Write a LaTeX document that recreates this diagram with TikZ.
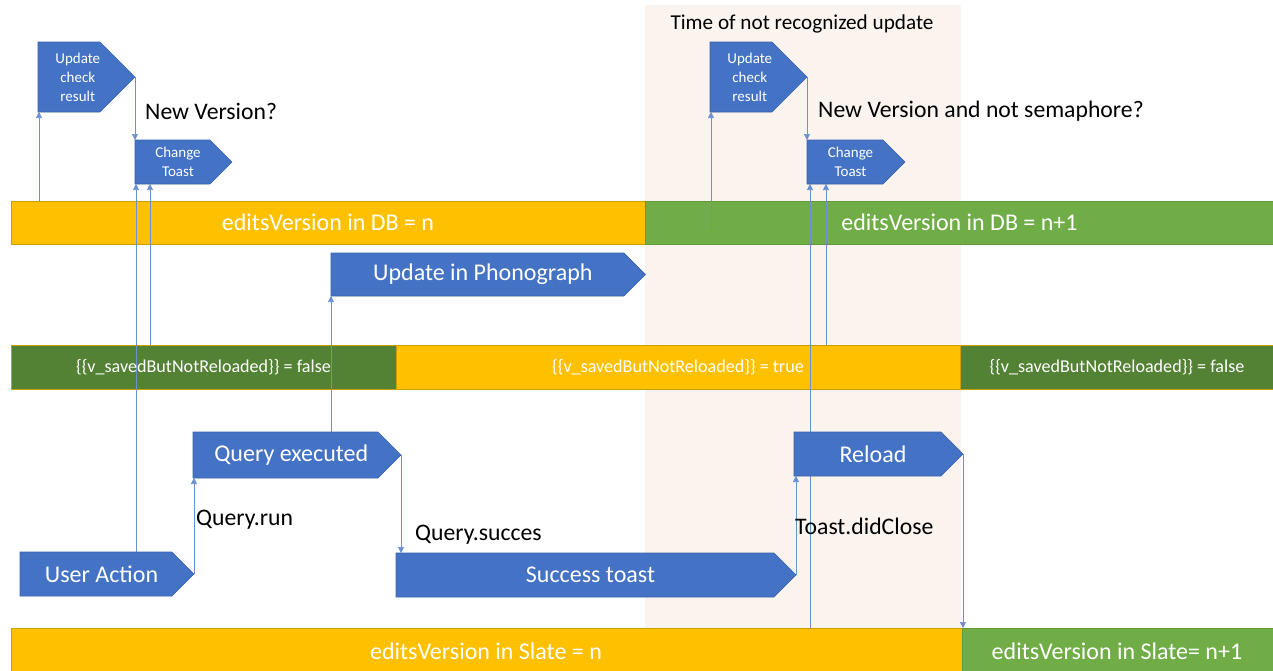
\documentclass[tikz,border=0pt]{standalone}
\usepackage{fontspec}
\setmainfont{Carlito}
\usetikzlibrary{arrows.meta,calc}
\pgfdeclarelayer{back}
\pgfdeclarelayer{mid}
\pgfsetlayers{back,mid,main}
\definecolor{orng}{HTML}{FFC000}
\definecolor{orngline}{HTML}{C9A000}
\definecolor{grn}{HTML}{70AD47}
\definecolor{grnline}{HTML}{5E9A38}
\definecolor{dgrn}{HTML}{548235}
\definecolor{boxblue}{HTML}{4472C4}
\definecolor{boxline}{HTML}{3A62AC}
\definecolor{connblue}{HTML}{6A90D4}
\definecolor{shadecol}{HTML}{FBF3EE}
\tikzset{
  pentbody/.style={fill=boxblue, draw=boxline, line width=0.6pt},
  pentnode/.style={draw=none, inner sep=0pt, outer sep=0pt},
  penttext/.style={text=white, align=center, inner sep=0pt},
  band/.style={line width=0.6pt, inner sep=0pt, outer sep=0pt, anchor=north west, text=white},
  bigfont/.style={font=\fontsize{24}{24}\selectfont},
  midfont/.style={font=\fontsize{18.1}{20}\selectfont},
  lbl/.style={text=black, inner sep=0pt, font=\fontsize{23.7}{24}\selectfont},
  conn/.style={draw=connblue, line width=0.6pt, -{Triangle[width=6pt,length=6pt]}}
}
\newcommand{\pentbox}[8]{%
  \pgfmathsetmacro{\pentH}{(#5-#3)/2}%
  \filldraw[pentbody] (#2,#3) -- (#4,#3) -- ({#4+\pentH},{(#3+#5)/2}) -- (#4,#5) -- (#2,#5) -- cycle;
  \node[pentnode, minimum width={#4-#2}, minimum height={#5-#3}] (#1) at ({(#2+#4)/2},{(#3+#5)/2}) {};
  \coordinate (#1-tip) at ({#4+\pentH},{(#3+#5)/2});
  \node[penttext, font=\fontsize{#6}{#7}\selectfont] (#1-t) at ({(#2+#4)/2+\pentH/4},{(#3+#5)/2}) {#8};
}
\begin{document}
\begin{tikzpicture}[x=1pt,y=-1pt]
\useasboundingbox (0,0) rectangle (1273,670);
\begin{pgfonlayer}{back}
  \fill[shadecol] (645,5) rectangle (961,670);
  % DB bands
  \node[band, bigfont, fill=orng, draw=orngline, minimum width=634, minimum height=43] (dbo) at (11,201) {editsVersion in DB = n};
  \node[band, bigfont, fill=grn, draw=grnline, minimum width=629, minimum height=43] (dbg) at (645,201) {editsVersion in DB = n+1};
  % saved bands
  \node[band, fill=orng, draw=orngline, minimum width=564, minimum height=44] (sbM) at (396,345) {};
  \node[band, fill=dgrn, draw=orngline, minimum width=385, minimum height=44] (sbL) at (11,345) {};
  \node[band, fill=dgrn, draw=orngline, minimum width=314, minimum height=44] (sbR) at (960,345) {};
\end{pgfonlayer}
\node[text=white, midfont, inner sep=0pt] (sbLt) at (sbL.center) {\{\{v\_savedButNotReloaded\}\} = false};
\node[text=white, midfont, inner sep=0pt] (sbMt) at (sbM.center) {\{\{v\_savedButNotReloaded\}\} = true};
\node[text=white, midfont, inner sep=0pt] (sbRt) at (sbR.center) {\{\{v\_savedButNotReloaded\}\} = false};
\begin{pgfonlayer}{back}
  % slate bands
  \node[band, fill=orng, draw=orngline, minimum width=951, minimum height=46] (slo) at (11,628) {};
  \node[band, fill=grn, draw=grnline, minimum width=312, minimum height=46] (slg) at (962,628) {};
\end{pgfonlayer}
\node[text=white, bigfont, inner sep=0pt] (slot) at (486,651) {editsVersion in Slate = n};
\node[text=white, bigfont, inner sep=0pt] (slgt) at (1117,651) {editsVersion in Slate= n+1};

% boxes
\pentbox{ucr1}{38}{42}{100}{112}{15}{19}{Update\\check\\result}
\pentbox{ct1}{135}{140}{210}{184}{15}{19}{Change\\Toast}
\pentbox{uip}{331}{253}{624}{296}{24}{24}{Update in Phonograph}
\pentbox{qe}{193}{432}{378}{478}{24}{24}{Query executed}
\pentbox{ua}{20}{552}{172}{596}{24}{24}{User Action}
\pentbox{st}{396}{553}{774}{597}{24}{24}{Success toast}
\pentbox{rl}{794}{432}{941}{476}{24}{24}{Reload}
\pentbox{ucr2}{710}{42}{772}{112}{15}{19}{Update\\check\\result}
\pentbox{ct2}{807}{140}{883}{184}{15}{19}{Change\\Toast}

% labels
\node[lbl, font=\fontsize{21.2}{22}\selectfont] (time) at (802,24) {Time of not recognized update};
\node[lbl, anchor=west] (nv1) at (145,111) {New Version?};
\node[lbl, anchor=west] (nv2) at (818,111) {New Version and not semaphore?};
\node[lbl, anchor=west] (qrun) at (196,520) {Query.run};
\node[lbl, anchor=west] (qsucc) at (415,535) {Query.succes};
\node[lbl, anchor=west] (tclose) at (795,526) {Toast.didClose};

% connectors
\begin{pgfonlayer}{mid}
  \coordinate (a1) at ($(ucr1.south west)+(1,0)$);
  \draw[conn] (dbo.north -| a1) -- (a1);
  \draw[conn] (ucr1-tip) -- (ucr1-tip |- ct1.north);
  \coordinate (a3) at ($(ct1.south west)+(1,0)$);
  \draw[conn] (ua.north -| a3) -- (a3);
  \coordinate (a4) at ($(ct1.south west)+(15,0)$);
  \draw[conn] (sbL.north -| a4) -- (a4);
  \draw[conn] (ua-tip) -- (ua-tip |- qe.south);
  \draw[conn] (qe.north -| uip.south west) -- (uip.south west);
  \draw[conn] (qe-tip) -- (qe-tip |- st.north);
  \draw[conn] (st-tip) -- (st-tip |- rl.south);
  \draw[conn] (rl-tip) -- (rl-tip |- slo.north);
  \coordinate (a10) at (711,230);
  \draw[conn] (a10) -- (a10 |- ucr2.south);
  \draw[conn] (ucr2-tip) -- (ucr2-tip |- ct2.north);
  \coordinate (a12) at ($(ct2.south west)+(3,0)$);
  \draw[conn] (slo.north -| a12) -- (a12);
  \coordinate (a13) at ($(ct2.south west)+(19,0)$);
  \draw[conn] (sbM.north -| a13) -- (a13);
\end{pgfonlayer}
\end{tikzpicture}
\end{document}
